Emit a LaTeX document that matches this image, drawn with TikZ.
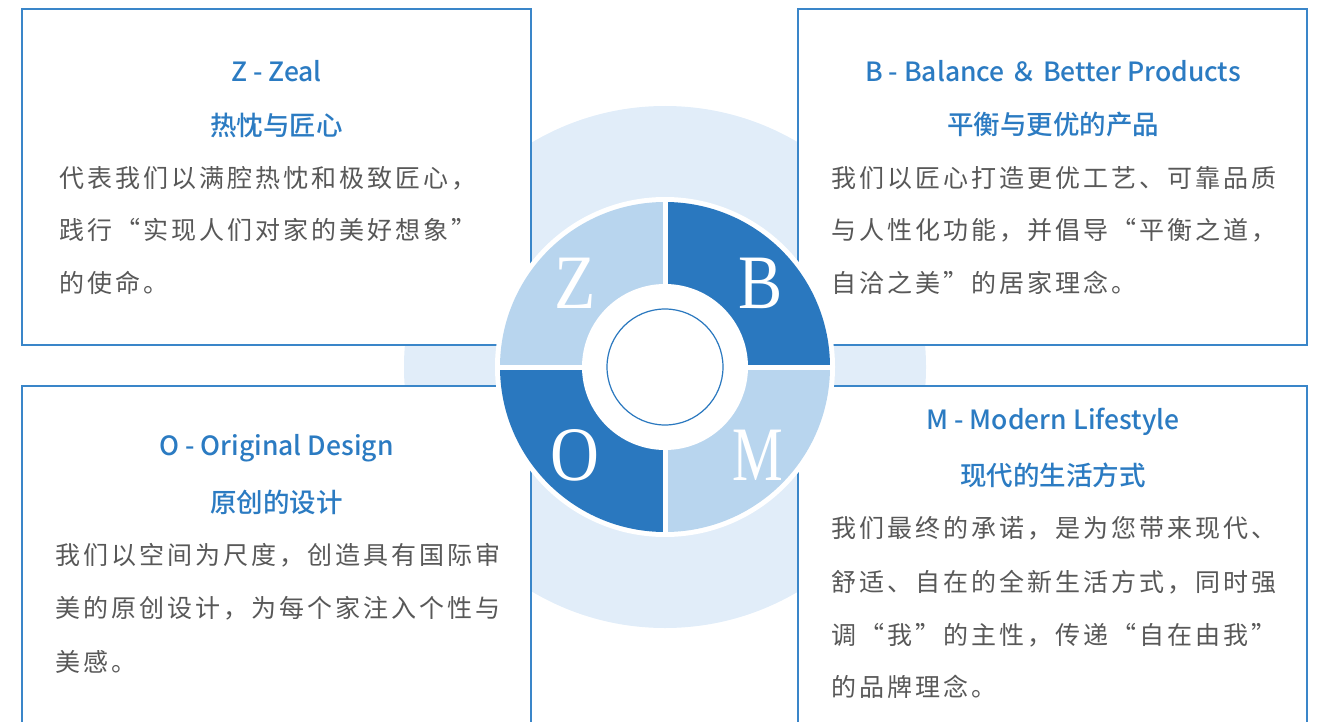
\documentclass[tikz,border=0pt]{standalone}
\usepackage{fontspec}
\setmainfont{Noto Sans CJK SC}
\newfontfamily\ttlfont{Noto Sans CJK SC Medium}
\newfontfamily\bodyfont[LetterSpace=12]{Noto Sans CJK SC}
\newfontfamily\letterfont{Liberation Serif}
\definecolor{bgc}{HTML}{E1EDF9}
\definecolor{lightq}{HTML}{B8D5EE}
\definecolor{darkq}{HTML}{2A78BF}
\definecolor{boxc}{HTML}{3A86C9}
\definecolor{titlec}{HTML}{2B7BC2}
\definecolor{bodyc}{HTML}{585858}
\tikzset{
  box/.style={draw=boxc, line width=1.8pt, fill=white, inner sep=0pt, outer sep=0pt},
  ttl/.style={text=titlec, font=\ttlfont\fontsize{26.5}{30}\selectfont, inner sep=0pt, anchor=center},
  ttlcn/.style={text=titlec, font=\ttlfont\fontsize{26.5}{30}\selectfont, inner sep=0pt, anchor=center},
  body/.style={text=bodyc, font=\bodyfont\fontsize{25}{30}\selectfont, inner sep=0pt, anchor=west},
  letter/.style={text=white, font=\letterfont\fontsize{77}{80}\selectfont, inner sep=0pt, anchor=center},
}
\begin{document}
\begin{tikzpicture}[x=1pt,y=-1pt]
\useasboundingbox (0,0) rectangle (1322,722);
% background disc
\fill[bgc] (665,367) circle (261);
% boxes
\node[box, minimum width=509, minimum height=336] (zbox) at (276.5,177) {};
\node[box, minimum width=509, minimum height=336] (bbox) at (1052.5,177) {};
\node[box, minimum width=509, minimum height=400] (obox) at (276.5,586) {};
\node[box, minimum width=509, minimum height=400] (mbox) at (1052.5,586) {};
% ring
\coordinate (c) at (665,367);
\fill[white] (c) circle (170);
\begin{scope}[shift={(665,367)}, y=1pt]
\fill[lightq] (0,0) -- (-165,0) arc[start angle=180, end angle=90, radius=165] -- cycle;
\fill[darkq] (0,0) -- (0,165) arc[start angle=90, end angle=0, radius=165] -- cycle;
\fill[darkq] (0,0) -- (-165,0) arc[start angle=180, end angle=270, radius=165] -- cycle;
\fill[lightq] (0,0) -- (165,0) arc[start angle=0, end angle=-90, radius=165] -- cycle;
\end{scope}
\draw[white, line width=5pt] ([xshift=-168pt]c) -- ([xshift=168pt]c);
\draw[white, line width=5pt] ([yshift=-168pt]c) -- ([yshift=168pt]c);
\fill[white] (c) circle (83);
\draw[darkq, line width=1.2pt] (c) circle (58);
\node[letter] (lz) at (575,283) {\scalebox{0.88}[1]{Z}};
\node[letter] (lb) at (761,283) {\scalebox{0.86}[1]{B}};
\node[letter] (lo) at (575,455) {\scalebox{0.88}[1]{O}};
\node[letter] (lm) at (758,455) {\scalebox{0.74}[1]{M}};
% Z box
\node[ttl] (zt1) at (276.5,71) {Z - Zeal};
\node[ttlcn] (zt2) at (276.5,125) {热忱与匠心};
\node[body] (zb1) at (59,178) {代表我们以满腔热忱和极致匠心，};
\node[body] (zb2) at (59,230) {践行“实现人们对家的美好想象”};
\node[body] (zb3) at (59,283) {的使命。};
% B box
\node[ttl] (bt1) at (1053,71) {B - Balance ＆ Better Products};
\node[ttlcn] (bt2) at (1053,125) {平衡与更优的产品};
\node[body] (bb1) at (831,178) {我们以匠心打造更优工艺、可靠品质};
\node[body] (bb2) at (831,230) {与人性化功能，并倡导“平衡之道，};
\node[body] (bb3) at (831,283) {自洽之美”的居家理念。};
% O box
\node[ttl] (ot1) at (276.5,448) {O - Original Design};
\node[ttlcn] (ot2) at (276.5,502) {原创的设计};
\node[body] (ob1) at (55,555) {我们以空间为尺度，创造具有国际审};
\node[body] (ob2) at (55,608) {美的原创设计，为每个家注入个性与};
\node[body] (ob3) at (55,662) {美感。};
% M box
\node[ttl] (mt1) at (1053,422) {M - Modern Lifestyle};
\node[ttlcn] (mt2) at (1053,475) {现代的生活方式};
\node[body] (mb1) at (831,528) {我们最终的承诺，是为您带来现代、};
\node[body] (mb2) at (831,582) {舒适、自在的全新生活方式，同时强};
\node[body] (mb3) at (831,635) {调“我”的主性，传递“自在由我”};
\node[body] (mb4) at (831,687) {的品牌理念。};
\end{tikzpicture}
\end{document}
